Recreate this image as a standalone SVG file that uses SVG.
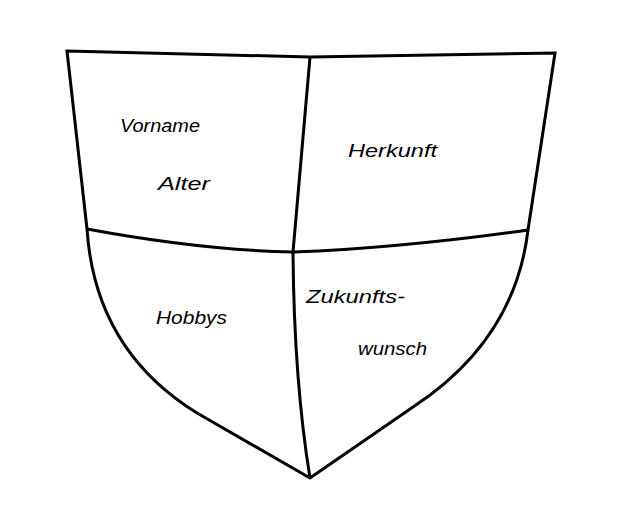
<svg xmlns="http://www.w3.org/2000/svg" width="640" height="512" viewBox="0 0 640 512">
<style>
.ln{fill:none;stroke:#000;stroke-width:3;stroke-linejoin:miter;stroke-linecap:butt}
.t{font-family:"Liberation Sans",Arial,sans-serif;font-style:italic;font-size:19px;fill:#000}
</style>
<rect width="640" height="512" fill="#fff"/>
<g id="shield">
<path class="ln" d="M67,51 L310,57 L555,53 L528,230 Q515,340 413,407 L310,478 L197,413 Q95,350 87,229 Z"/>
</g>
<g id="dividers">
<path class="ln" d="M310,57 L293,252 Q294,380 310,478"/>
<path class="ln" d="M87,229 Q200,250 293,252 Q400,248 528,230"/>
</g>
<g id="field-top-left">
<text class="t" x="120" y="132" textLength="80" lengthAdjust="spacingAndGlyphs">Vorname</text>
<text class="t" x="158" y="190" textLength="52" lengthAdjust="spacingAndGlyphs">Alter</text>
</g>
<g id="field-top-right">
<text class="t" x="348" y="157" textLength="89" lengthAdjust="spacingAndGlyphs">Herkunft</text>
</g>
<g id="field-bottom-left">
<text class="t" x="156" y="324" textLength="71" lengthAdjust="spacingAndGlyphs">Hobbys</text>
</g>
<g id="field-bottom-right">
<text class="t" x="306" y="303" textLength="99" lengthAdjust="spacingAndGlyphs">Zukunfts-</text>
<text class="t" x="358" y="355" textLength="69" lengthAdjust="spacingAndGlyphs">wunsch</text>
</g>
</svg>
